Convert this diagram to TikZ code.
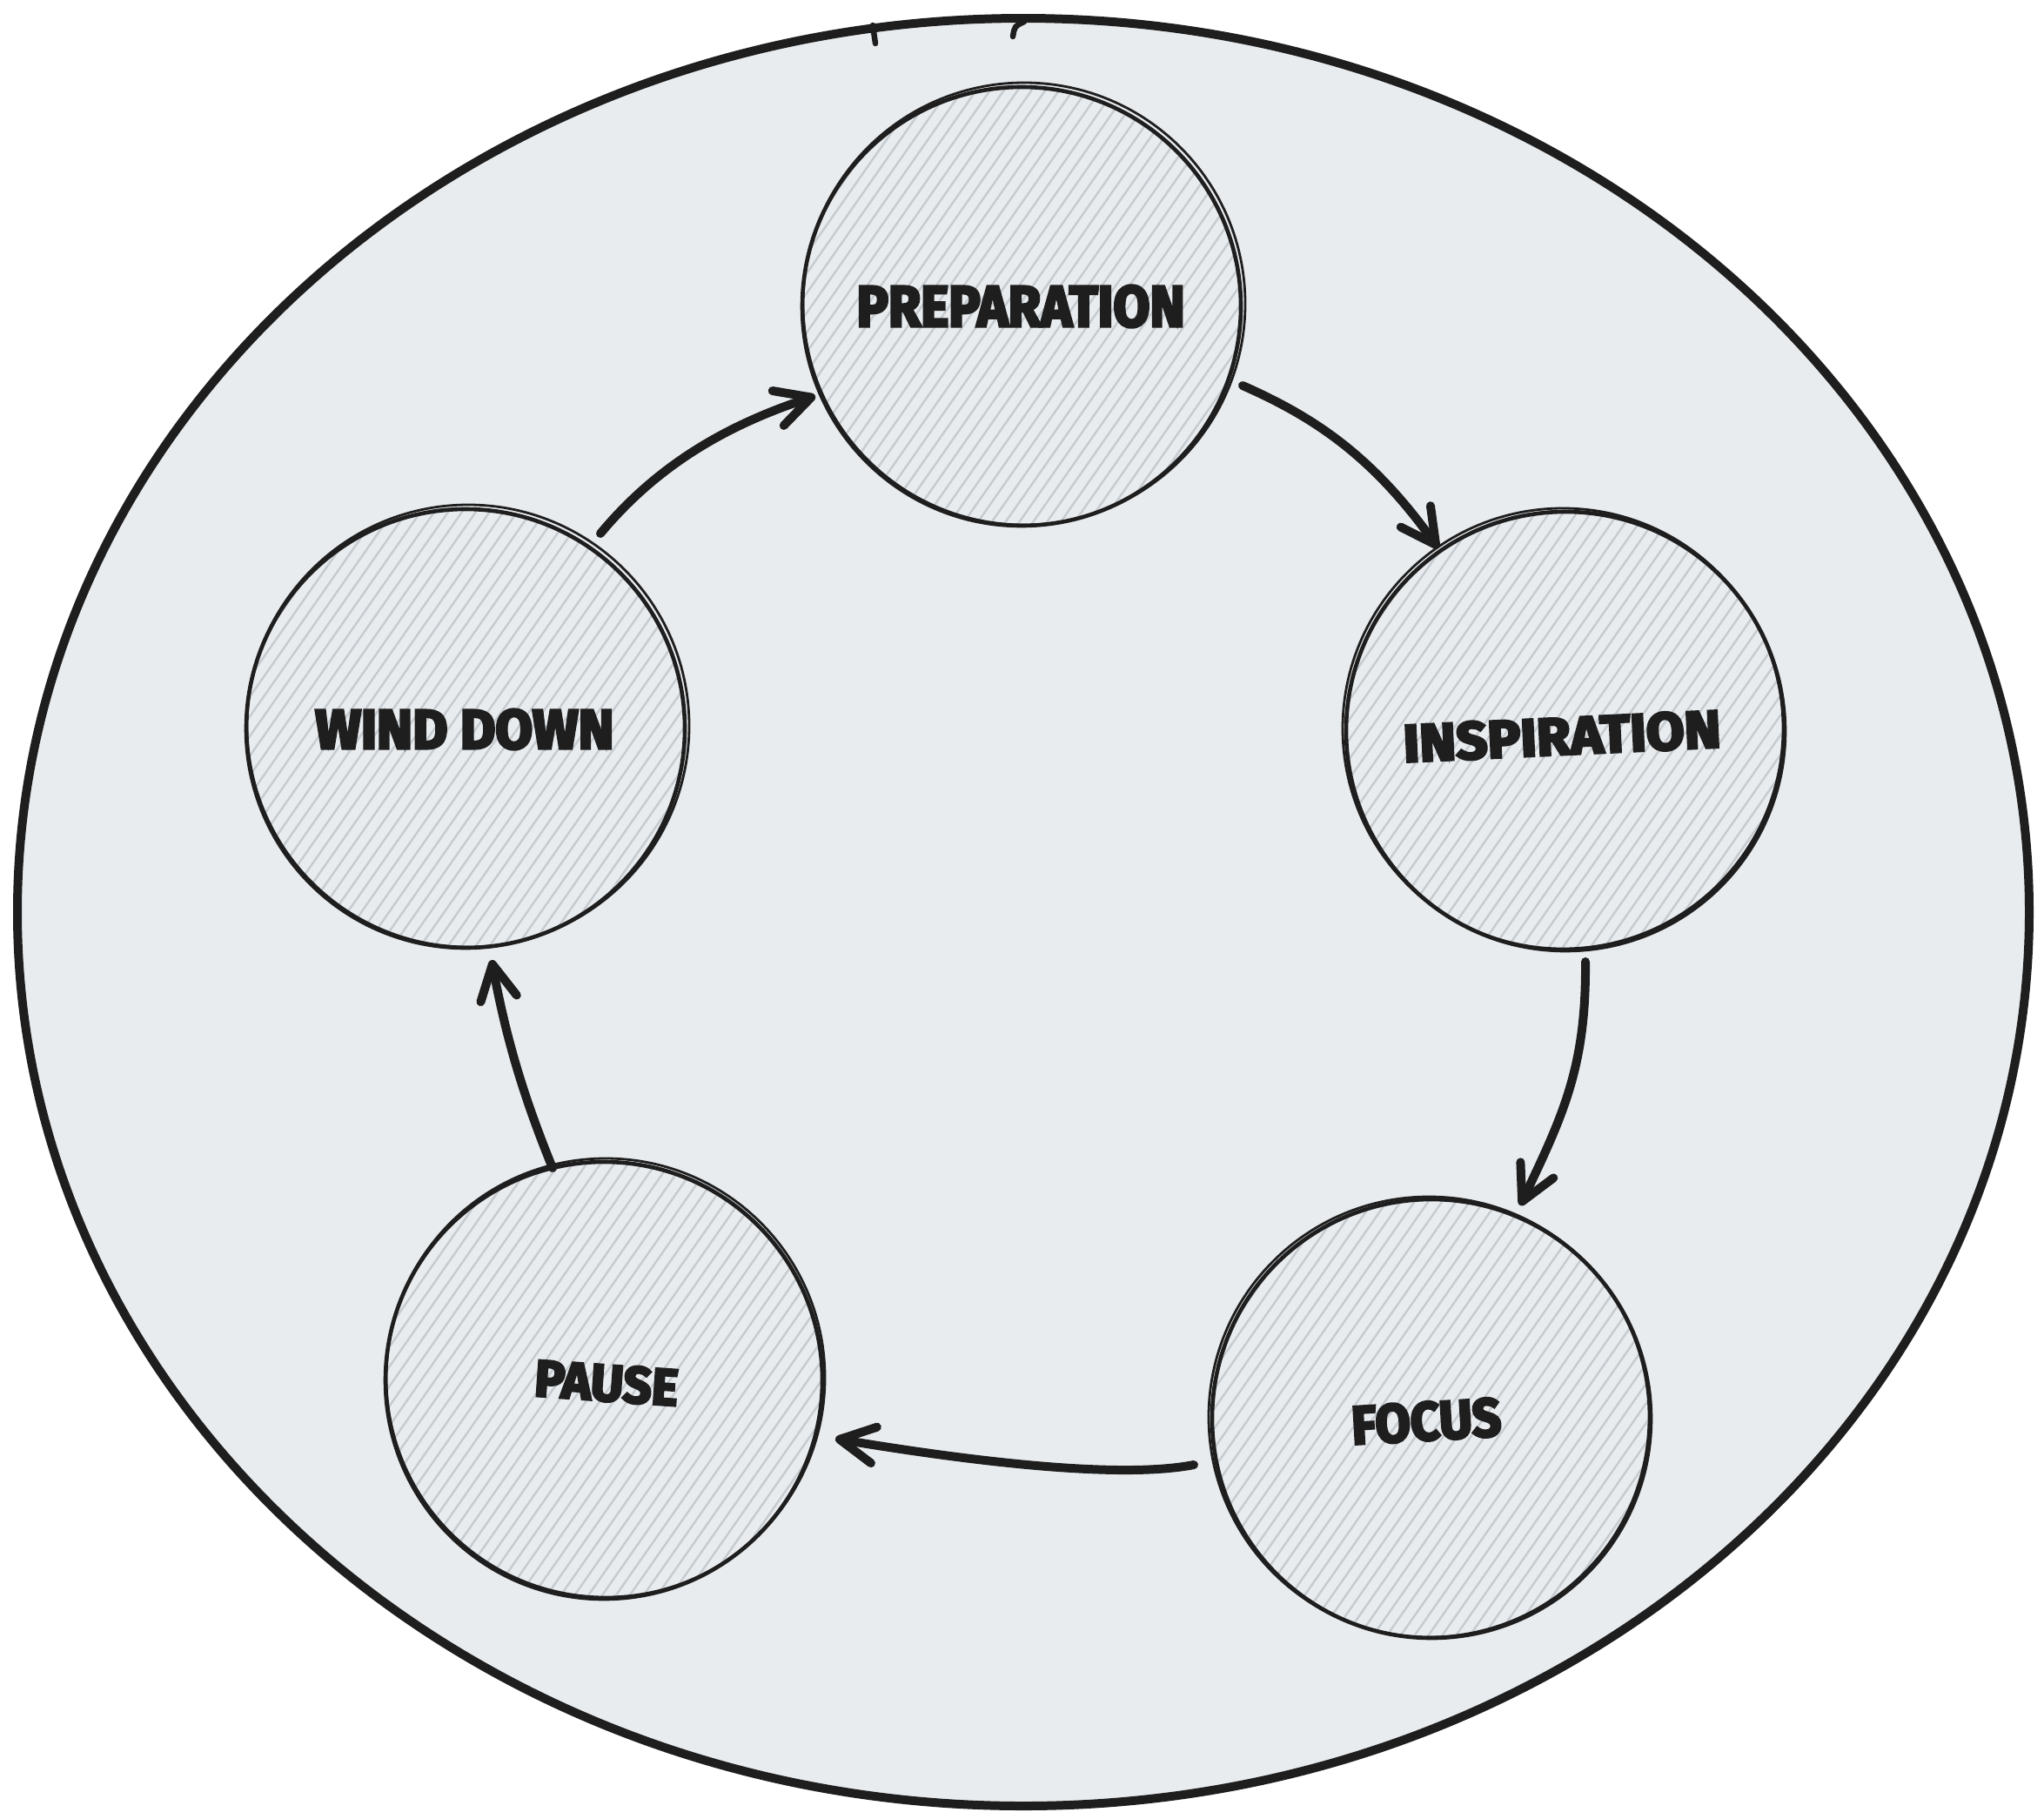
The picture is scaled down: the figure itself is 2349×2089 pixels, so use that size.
\documentclass[tikz,border=0pt]{standalone}
\usepackage{fontspec}
\usepackage{graphicx}
\newfontfamily\labfont[BoldFeatures={FakeBold=5}]{Fira Sans}
\usetikzlibrary{arrows.meta,calc}
\definecolor{ink}{HTML}{1E1E1E}
\definecolor{bgfill}{HTML}{E9ECEF}
\definecolor{hatchc}{HTML}{C6CBD0}
\newcommand{\fitlbl}[3]{\resizebox{#1pt}{#2pt}{\labfont\bfseries #3}}
\tikzset{
  bubble/.style={circle, draw=ink, line width=4.6pt, minimum size=#1, inner sep=0pt, outer sep=0pt,
    path picture={
      \foreach \k in {-276,-263,...,276}
        \draw[hatchc, line width=2.4pt]
          ($(path picture bounding box.center)+(35:\k)+(-55:300)$) --
          ($(path picture bounding box.center)+(35:\k)+(125:300)$);
    }},
  bubbletwo/.style={draw=ink, line width=2.8pt},
  lbl/.style={inner sep=0pt, outer sep=0pt, text=ink},
  flow/.style={draw=ink, line width=10pt, line cap=round, line join=round,
    -{Straight Barb[length=40pt, width=42pt, round]}},
  frame/.style={draw=ink, fill=bgfill, line width=10pt}
}
\begin{document}
\begin{tikzpicture}[x=1pt, y=-1pt]
\useasboundingbox (0,0) rectangle (2349,2089);
\fill[white] (0,0) rectangle (2349,2089);
% outer ellipse
\draw[frame] (1176,1048) ellipse [x radius=1156, y radius=1027];
\draw[ink, line width=6.5pt, line cap=round] (1003,29) -- (1006,50);
\draw[ink, line width=6.5pt, line cap=round] (1177,25) .. controls (1166,30) .. (1164,42);

% stage bubbles
\node[bubble=504pt] (prep)  at (1174,352)  {};
\node[bubble=504pt] (insp)  at (1799,840)  {};
\node[bubble=504pt] (focus) at (1645,1630) {};
\node[bubble=502pt] (pause) at (694,1586)  {};
\node[bubble=504pt] (wind)  at (535,837)   {};

% sketchy second strokes
\draw[bubbletwo] ($(prep)+(3,-3)$) circle (254);
\draw[bubbletwo] ($(insp)+(-3,-3)$) circle (253);
\draw[bubbletwo] ($(focus)+(-3,-2)$) circle (253);
\draw[bubbletwo] ($(pause)+(2,-3)$) circle (252);
\draw[bubbletwo] ($(wind)+(3,-3)$) circle (254);

% labels
\node[lbl] (tprep) at (1173,352) {\fitlbl{377}{47}{PREPARATION}};
\node[lbl, rotate=2.7] (tinsp) at (1795,846) {\fitlbl{365}{43}{INSPIRATION}};
\node[lbl, rotate=3.4] (tfocus) at (1639,1633) {\fitlbl{172}{44}{FOCUS}};
\node[lbl, rotate=-4] (tpause) at (697,1589) {\fitlbl{165}{42}{PAUSE}};
\node[lbl] (twind) at (534,838) {\fitlbl{343}{45}{WIND DOWN}};

% connectors
\draw[flow] ($(prep)+(254,91)$) .. controls ($(prep)+(338,128)$) and ($(insp)+(-221,-315)$) .. ($(insp)+(-146,-210)$);
\draw[flow] ($(insp)+(23,265)$) .. controls ($(insp)+(24,385)$) and ($(focus)+(152,-350)$) .. ($(focus)+(102,-245)$);
\draw[flow] ($(focus)+(-273,53)$) .. controls ($(focus)+(-360,70)$) and ($(pause)+(416,92)$) .. ($(pause)+(266,67)$);
\draw[flow] ($(pause)+(-59,-244)$) .. controls ($(pause)+(-89,-318)$) and ($(wind)+(48,364)$) .. ($(wind)+(30,266)$);
\draw[flow] ($(wind)+(155,-224)$) .. controls ($(wind)+(219,-301)$) and ($(prep)+(-341,137)$) .. ($(prep)+(-237,103)$);
\end{tikzpicture}
\end{document}
